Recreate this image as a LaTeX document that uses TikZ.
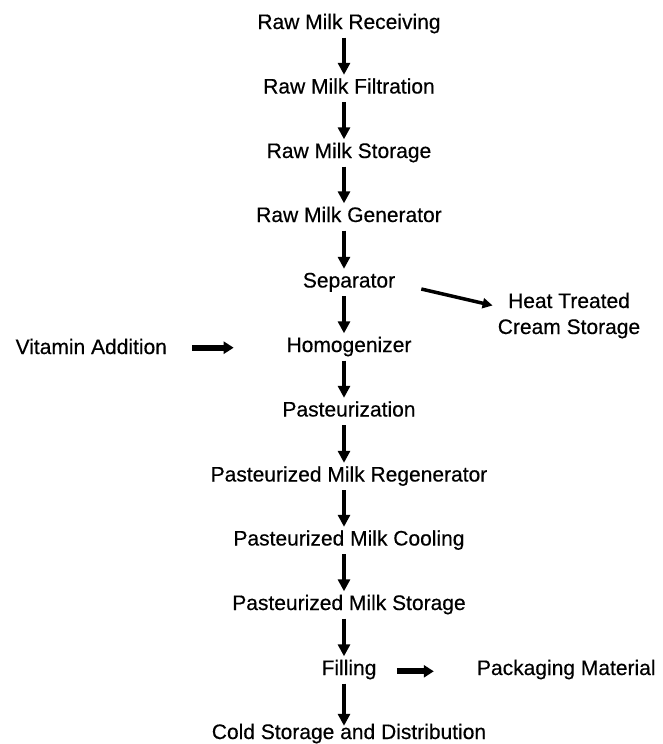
\documentclass[tikz,border=0pt]{standalone}
\usepackage{fontspec}
\setmainfont{Liberation Sans}
\newfontfamily\stepfont{Liberation Sans}[FakeBold=0.4]
\usetikzlibrary{arrows.meta}
\begin{document}
\begin{tikzpicture}[x=1pt,y=-1pt,
  steptext/.style={font=\stepfont\fontsize{21}{26}\selectfont, inner sep=0pt,
    text height=15pt, text depth=5pt, anchor=base},
  flow/.style={line width=4.5pt, -{Triangle[length=12pt,width=12pt]},
    shorten <=3.5pt, shorten >=3.5pt},
  sidearrow/.style={line width=6pt, -{Triangle[length=10pt,width=12pt]}},
  brancharrow/.style={line width=3.5pt, -{Triangle[length=10pt,width=10pt]}}]
\useasboundingbox (0,0) rectangle (663,744);

% main process line
\node[steptext] (s1)  at (349,29)    {Raw Milk Receiving};
\node[steptext] (s2)  at (349,93.5)  {Raw Milk Filtration};
\node[steptext] (s3)  at (349,158)   {Raw Milk Storage};
\node[steptext] (s4)  at (349,222)   {Raw Milk Generator};
\node[steptext] (s5)  at (349,287.5) {Separator};
\node[steptext] (s6)  at (349,352)   {Homogenizer};
\node[steptext] (s7)  at (349,416.5) {Pasteurization};
\node[steptext] (s8)  at (349,481.5) {Pasteurized Milk Regenerator};
\node[steptext] (s9)  at (349,545.5) {Pasteurized Milk Cooling};
\node[steptext] (s10) at (349,610)   {Pasteurized Milk Storage};
\node[steptext] (s11) at (349,675)   {Filling};
\node[steptext] (s12) at (349,739)   {Cold Storage and Distribution};

% side inputs and outputs (base of a two-line node is its last line)
\node[steptext, align=center, text height=, text depth=] (cream) at (569,334)
  {Heat Treated\\Cream Storage};
\node[steptext] (vit)  at (91.3,354)  {Vitamin Addition};
\node[steptext] (pack) at (566.3,675) {Packaging Material};

% arrows along the main line
\foreach \a/\b in {s1/s2,s2/s3,s3/s4,s4/s5,s5/s6,s6/s7,s7/s8,s8/s9,s9/s10,s10/s11}
  \draw[flow] ([xshift=-5pt]\a.south) -- ([xshift=-5pt]\b.north);
\draw[flow, shorten >=-2pt] ([xshift=-5pt]s11.south) -- ([xshift=-5pt]s12.north);

% branch and side arrows
\draw[brancharrow] ([shift={(26,1.5)}]s5.base east) -- ([shift={(-5,-28.5)}]cream.base west);
\draw[sidearrow] ([shift={(25,-6.3)}]vit.base east) -- ([shift={(-52.7,-4.3)}]s6.base west);
\draw[sidearrow] ([shift={(20.3,-3.7)}]s11.base east) -- ([shift={(-43,-3.7)}]pack.base west);
\end{tikzpicture}
\end{document}
